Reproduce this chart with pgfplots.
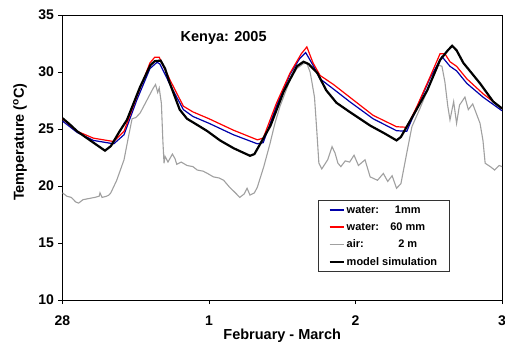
\documentclass[border=0pt]{standalone}
\usepackage{pgfplots}
\pgfplotsset{compat=1.18}
\usepackage{fontspec}
\setmainfont{Liberation Sans}
\definecolor{wblue}{RGB}{0,0,170}
\definecolor{wred}{RGB}{255,0,0}
\definecolor{airgray}{RGB}{160,160,160}
\begin{document}
\begin{tikzpicture}
\path[use as bounding box] (-62.5bp,-43bp) rectangle (442.5bp,300bp);
\begin{axis}[
  at={(0,0)}, anchor=south west,
  scale only axis, width=439.5bp, height=285bp,
  xmin=0, xmax=3, ymin=10, ymax=35,
  xtick={0,1,2,3}, xticklabels={28,1,2,3},
  ytick={10,15,20,25,30,35},
  tick pos=left, tick align=outside, major tick length=4bp,
  axis line style={line width=0.8bp},
  tick style={line width=0.8bp, black},
  /pgf/number format/assume math mode=true,
  tick label style={font=\bfseries\fontsize{14bp}{16bp}\selectfont},
  yticklabel style={xshift=-1bp},
  xticklabel style={yshift=-8bp},
  xlabel={February - March},
  ylabel={Temperature (\textsuperscript{o}C)},
  label style={font=\bfseries\fontsize{14.5bp}{16bp}\selectfont},
  xlabel style={at={(axis description cs:0.5,0)}, anchor=base, yshift=-39bp},
  ylabel style={at={(axis description cs:0,0.554)}, anchor=center, yshift=42.5bp},
  legend style={at={(rel axis cs:0.581,0.35)}, anchor=north west, draw=black!80,
    font=\bfseries\fontsize{11bp}{12bp}\selectfont, row sep=4bp, inner xsep=10.5bp, inner ysep=3bp},
  legend cell align=left,
  legend image code/.code={\draw (0cm,0cm) -- (14bp,0cm);},
  clip=true,
]
\addplot[wblue, line width=1.2bp] coordinates {
(0,25.7)(0.1,24.7)(0.21,24.0)(0.35,23.7)(0.42,24.5)(0.506,27.5)(0.597,30.3)(0.645,30.85)(0.665,30.7)(0.734,28.9)(0.825,26.7)(0.89,26.1)(1.0,25.5)(1.166,24.5)(1.33,23.7)(1.37,23.8)(1.46,27.0)(1.553,29.8)(1.62,31.2)(1.66,31.7)(1.71,30.6)(1.758,29.4)(1.85,28.5)(1.96,27.4)(2.12,25.9)(2.28,24.85)(2.35,24.8)(2.42,26.9)(2.51,29.5)(2.59,31.35)(2.645,30.5)(2.69,30.1)(2.76,29.0)(2.87,27.8)(3.0,26.6)
};
\addlegendentry{\makebox[42bp][l]{water:}\makebox[38bp][c]{1mm}}
\addplot[wred, line width=1.2bp] coordinates {
(0,25.9)(0.1,24.8)(0.21,24.2)(0.35,23.9)(0.42,24.8)(0.506,27.8)(0.597,30.8)(0.63,31.3)(0.66,31.3)(0.734,29.3)(0.825,27.0)(0.89,26.5)(1.0,25.9)(1.166,24.9)(1.33,24.05)(1.37,24.2)(1.46,27.25)(1.553,29.9)(1.63,31.6)(1.668,32.2)(1.71,30.8)(1.758,29.7)(1.85,28.9)(1.96,27.8)(2.12,26.2)(2.28,25.2)(2.35,25.15)(2.42,27.0)(2.51,29.6)(2.577,31.6)(2.61,31.6)(2.645,30.9)(2.69,30.5)(2.76,29.4)(2.87,28.1)(3.0,26.8)
};
\addlegendentry{\makebox[42bp][l]{water:}\makebox[38bp][c]{60 mm}}
\addplot[airgray, line width=1.1bp] coordinates {
(0,19.4)(0.03,19.1)(0.06,19.0)(0.09,18.6)(0.11,18.5)(0.14,18.8)(0.18,18.9)(0.22,19.0)(0.25,19.1)(0.256,19.4)(0.27,19.0)(0.3,19.1)(0.316,19.2)(0.33,19.4)(0.37,20.5)(0.42,22.3)(0.45,24.3)(0.475,25.9)(0.5,26.0)(0.53,26.4)(0.575,27.5)(0.62,28.6)(0.635,28.9)(0.65,28.2)(0.66,28.6)(0.675,27.25)(0.685,24.0)(0.693,22.0)(0.7,22.6)(0.72,22.1)(0.75,22.8)(0.768,22.4)(0.78,21.9)(0.81,22.1)(0.85,21.8)(0.89,21.7)(0.92,21.4)(0.96,21.3)(0.99,21.1)(1.03,20.8)(1.07,20.7)(1.1,20.5)(1.14,19.9)(1.18,19.4)(1.21,19.0)(1.24,19.3)(1.26,19.8)(1.28,19.2)(1.31,19.4)(1.33,19.9)(1.374,21.7)(1.416,23.7)(1.45,25.5)(1.485,27.0)(1.553,29.3)(1.6,30.3)(1.64,30.7)(1.667,30.8)(1.69,30.0)(1.70,29.3)(1.72,27.8)(1.735,25.0)(1.75,22.0)(1.77,21.5)(1.79,21.9)(1.81,22.3)(1.84,23.45)(1.86,22.9)(1.88,22.0)(1.9,21.7)(1.93,22.2)(1.96,22.1)(1.99,22.7)(2.02,21.8)(2.065,22.3)(2.1,20.8)(2.15,20.5)(2.19,21.1)(2.22,20.4)(2.25,20.9)(2.28,19.8)(2.31,20.2)(2.35,22.9)(2.385,25.2)(2.44,26.8)(2.51,29.0)(2.566,30.6)(2.59,30.5)(2.61,29.15)(2.63,27.0)(2.645,25.8)(2.67,27.4)(2.69,25.5)(2.71,27.1)(2.747,27.8)(2.77,26.7)(2.8,27.2)(2.85,25.5)(2.87,24.0)(2.885,22.0)(2.92,21.7)(2.95,21.4)(2.98,21.8)(3.0,21.7)
};
\addlegendentry{\makebox[42bp][l]{air:}\makebox[38bp][c]{2 m}}
\addplot[black, line width=2.2bp] coordinates {
(0,25.95)(0.05,25.4)(0.1,24.8)(0.2,23.9)(0.29,23.1)(0.33,23.5)(0.39,24.8)(0.44,25.8)(0.53,28.7)(0.6,30.6)(0.63,30.95)(0.67,31.0)(0.7,30.3)(0.73,29.1)(0.8,26.7)(0.85,25.9)(0.94,25.2)(0.99,24.8)(1.075,24.0)(1.17,23.3)(1.28,22.65)(1.31,22.8)(1.35,23.7)(1.42,25.3)(1.51,28.3)(1.6,30.5)(1.645,30.9)(1.68,30.7)(1.74,29.9)(1.8,28.4)(1.87,27.3)(1.96,26.5)(2.1,25.3)(2.2,24.6)(2.28,24.0)(2.31,24.3)(2.39,26.1)(2.49,28.4)(2.577,31.05)(2.63,31.9)(2.66,32.3)(2.69,31.9)(2.736,30.8)(2.85,29.0)(2.94,27.4)(3.0,26.8)
};
\addlegendentry{model simulation}
\node[font=\bfseries\fontsize{14.5bp}{16bp}\selectfont] at (axis cs:1.1,33.0) {Kenya: 2005};
\end{axis}
\end{tikzpicture}
\end{document}
